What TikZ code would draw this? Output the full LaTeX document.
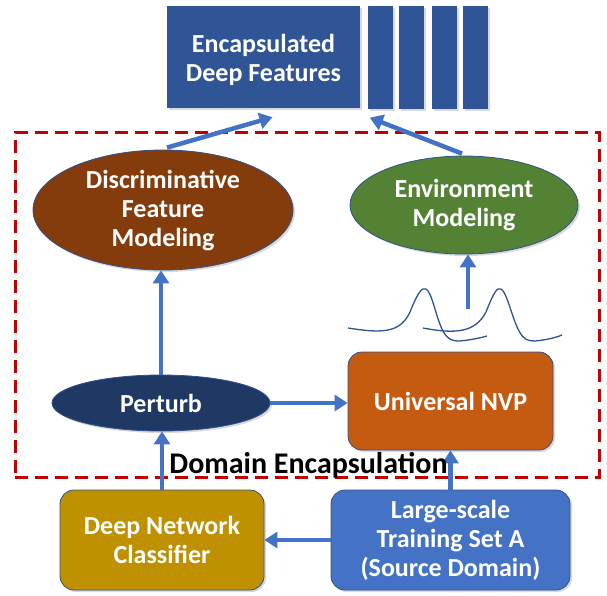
\documentclass[tikz,border=0pt]{standalone}
\usepackage{fontspec}
\setmainfont{Carlito}
\usetikzlibrary{shapes.geometric,arrows.meta,shadows,calc}

\definecolor{featblue}{HTML}{2F5597}
\definecolor{discbrown}{HTML}{843C0C}
\definecolor{envgreen}{HTML}{548235}
\definecolor{pertnavy}{HTML}{203864}
\definecolor{nvporange}{HTML}{C55A11}
\definecolor{dnngold}{HTML}{BF9000}
\definecolor{srcblue}{HTML}{4472C4}
\definecolor{encred}{HTML}{C00000}
\definecolor{edgeblue}{HTML}{2F528F}

\tikzset{
  soft/.style={drop shadow={shadow xshift=2pt,shadow yshift=-2pt,opacity=0.3}},
  lbl/.style={text=white,font=\bfseries\fontsize{26}{29}\selectfont,align=center},
  featbox/.style={fill=featblue,draw=none,soft,inner sep=0pt},
  rbox/.style={draw=edgeblue,line width=0.8pt,rounded corners=14pt,soft,lbl,inner sep=0pt},
  oval/.style={ellipse,draw=edgeblue,line width=0.8pt,soft,inner sep=0pt},
  flow/.style={draw=srcblue,line width=4.5pt,-{Triangle[length=13pt,width=16pt]}},
  curve/.style={draw=edgeblue,line width=1.3pt},
  encbox/.style={draw=encred,line width=3pt,dash pattern=on 13pt off 7pt},
  enctext/.style={font=\bfseries\fontsize{30}{32}\selectfont,anchor=base,text=black},
}

\begin{document}
\begin{tikzpicture}[x=1pt,y=-1pt]
\useasboundingbox (0,0) rectangle (607,595);

% output: encapsulated features with stacked slices
\node[featbox,minimum width=193pt,minimum height=102pt] (feat) at (263.5,57) {};
\node[lbl] at ([yshift=-3pt]feat.center) {Encapsulated\\Deep Features};
\node[featbox,minimum width=25pt,minimum height=103pt] (bar1) at (380.5,57) {};
\node[featbox,minimum width=25pt,minimum height=103pt] (bar2) at (411.5,57) {};
\node[featbox,minimum width=25pt,minimum height=103pt] (bar3) at (444.5,57) {};
\node[featbox,minimum width=25pt,minimum height=103pt] (bar4) at (475.5,57) {};

% domain encapsulation frame
\node[encbox,minimum width=584pt,minimum height=345pt,inner sep=0pt] (enc) at (307,305) {};

% modelling stages
\node[oval,fill=discbrown,minimum width=260pt,minimum height=120pt] (disc) at (163,210) {};
\node[lbl] at ([yshift=-1pt]disc.center) {Discriminative\\Feature\\Modeling};
\node[oval,fill=envgreen,minimum width=228pt,minimum height=98pt] (env) at (464,205) {};
\node[lbl] at (env) {Environment\\Modeling};

\node[oval,fill=pertnavy,minimum width=218pt,minimum height=56pt] (pert) at (161,403) {};
\node[lbl] at (pert) {Perturb};
\node[rbox,fill=nvporange,minimum width=205pt,minimum height=98pt] (nvp) at (450.5,401) {Universal NVP};

% learned densities
\draw[curve] (348,328) .. controls (380,333) and (400,334) .. (410,312)
  .. controls (418,292) and (422,287) .. (426,289)
  .. controls (432,292) and (436,318) .. (443,331)
  .. controls (448,340) and (452,341) .. (460,341)
  .. controls (470,340) and (480,338) .. (487,336);
\draw[curve] (423,328) .. controls (455,334) and (475,333) .. (486,312)
  .. controls (494,292) and (497,287) .. (501,289)
  .. controls (507,292) and (512,318) .. (519,331)
  .. controls (524,340) and (528,341) .. (535,341)
  .. controls (545,340) and (555,338) .. (562,335);
\coordinate (dens) at (468,309);

% inputs
\node[rbox,fill=dnngold,minimum width=204pt,minimum height=100pt] (dnn) at (162,540) {Deep Network\\Classifier};
\node[rbox,fill=srcblue,minimum width=239pt,minimum height=100pt] (src) at (450.5,540) {Large-scale\\Training Set A\\(Source Domain)};

% connectors
\draw[flow] ([xshift=4pt,yshift=2pt]disc.north) -- ([xshift=9pt,yshift=-9pt]feat.south);
\draw[flow] ([xshift=-2pt,yshift=2pt]env.north) -- ([xshift=2pt,yshift=-9pt]bar1.south west);
\draw[flow] (pert.north) -- (pert.north |- disc.south);
\draw[flow] (dens) -- (dens |- env.south);
\draw[flow] (pert.east) -- (pert.east -| nvp.west);
\draw[flow] (dnn.north) -- (dnn.north |- pert.south);
\draw[flow] (src.north) -- (nvp.south);
\draw[flow] (src.west) -- (dnn.east);

% frame caption
\node[enctext] (enclbl) at (308.5,473) {Domain Encapsulation};
\end{tikzpicture}
\end{document}
